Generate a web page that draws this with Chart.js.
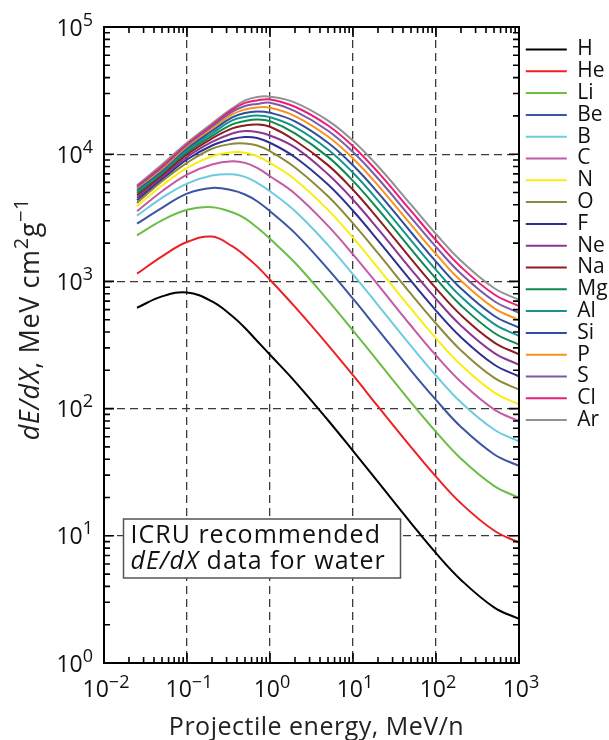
<!DOCTYPE html>
<html>
<head>
<meta charset="utf-8">
<script src="https://cdn.jsdelivr.net/npm/chart.js@4.4.1/dist/chart.umd.min.js"></script>
<style>
html,body{margin:0;padding:0;background:#ffffff;overflow:hidden;}
canvas{display:block;}
</style>
</head>
<body>
<canvas id="chart" width="609" height="740"></canvas>
<script>
// ---------------- data ----------------
const energies = [0.025, 0.05, 0.1, 0.2, 0.35, 0.5, 0.7, 1, 2, 5, 10, 20, 50, 100, 200, 500, 1000];
const ions = ['H','He','Li','Be','B','C','N','O','F','Ne','Na','Mg','Al','Si','P','S','Cl','Ar'];

const sH  = [621, 762, 819, 696, 535, 430, 340, 265, 163, 81, 46.5, 26.5, 12.6, 7.3, 4.5, 2.74, 2.22];
const sHe = [1150, 1575, 2040, 2250, 1890, 1593, 1313, 1031, 630, 316, 183, 104, 49.8, 29.2, 18.0, 11.0, 8.84];
const sLi = [2300, 3020, 3660, 3830, 3494, 3130, 2650, 2160, 1402, 709, 411, 235, 112, 65.6, 40.4, 24.7, 19.9];
const sBe = [2845, 3785, 4900, 5430, 5210, 4820, 4270, 3560, 2395, 1250, 731, 418, 199, 117, 71.8, 43.8, 35.4];
const sB  = [3290, 4540, 5875, 6790, 6960, 6640, 5950, 5115, 3572, 1930, 1137, 652, 311, 182, 112, 68.5, 55.3];
const sC  = [3560, 5115, 6920, 8300, 8810, 8550, 7810, 6710, 4896, 2734, 1632, 940, 448, 262, 162, 98.6, 79.6];
const sN  = [3900, 5670, 7810, 9640, 10370, 10250, 9640, 8550, 6335, 3651, 2207, 1276, 610, 357, 220, 134, 108];
const sO  = [4140, 6125, 8550, 11040, 12080, 12140, 11710, 10570, 7866, 4666, 2862, 1665, 797, 467, 287, 175, 141];
const sF  = [4345, 6324, 9080, 11710, 13170, 13660, 13420, 12300, 9467, 5772, 3590, 2102, 1008, 590, 364, 222, 179];
const sNe = [4537, 6554, 9506, 12480, 14550, 15230, 14960, 14040, 11300, 6957, 4386, 2588, 1245, 729, 449, 274, 221];
const sNa = [4730, 6735, 9945, 13290, 15940, 16830, 17140, 16430, 12820, 8207, 5250, 3121, 1506, 882, 543, 332, 267];
const sMg = [4905, 6922, 10310, 13910, 17140, 18260, 18760, 18190, 14578, 9527, 6170, 3700, 1791, 1050, 647, 395, 318];
const sAl = [5058, 7112, 10690, 14550, 18430, 19630, 20170, 19560, 16350, 10902, 7150, 4323, 2101, 1232, 759, 463, 373];
const sSi = [5179, 7308, 10990, 15230, 19450, 21110, 21690, 21180, 18137, 12316, 8180, 4988, 2435, 1429, 880, 537, 433];
const sP  = [5302, 7509, 11290, 15790, 20540, 22490, 23320, 23190, 19945, 13777, 9260, 5693, 2793, 1640, 1010, 617, 497];
const sS  = [5437, 7716, 11600, 16370, 21490, 23960, 24850, 25390, 21781, 15280, 10390, 6439, 3174, 1866, 1149, 701, 566];
const sCl = [5568, 8000, 11920, 16890, 22290, 25300, 26470, 26960, 23600, 16813, 11560, 7222, 3579, 2105, 1298, 792, 639];
const sAr = [5700, 8296, 12300, 17450, 22900, 26470, 28210, 28340, 25457, 18386, 12760, 8044, 4007, 2360, 1455, 888, 716];

const ionSeries = [sH, sHe, sLi, sBe, sB, sC, sN, sO, sF, sNe, sNa, sMg, sAl, sSi, sP, sS, sCl, sAr];
const ionColors = ['#000000','#ed2024','#6abd45','#3b54a4','#6ccbdf','#c45aa5','#f9ee14','#8c8a3b','#2e3192','#8e3594',
                   '#8f1c20','#0f8a4c','#16938f','#2f4ea0','#f7941e','#7a5ba8','#ec1c79','#929292'];

const xTickValues = [0.01, 0.1, 1, 10, 100, 1000];
const xTickExponents = ['\u22122', '\u22121', '0', '1', '2', '3'];
const yTickValues = [1, 10, 100, 1000, 10000, 100000];
const yTickExponents = ['0', '1', '2', '3', '4', '5'];

const xAxisTitle = 'Projectile energy, MeV/n';
const yAxisTitleParts = [['dE/dX', 'i'], [', MeV cm', 'n'], ['2', 's'], ['g', 'n'], ['\u22121', 's']];
const noteLine1 = [['ICRU recommended', 'n']];
const noteLine2 = [['dE/dX', 'i'], [' data for water', 'n']];

// ---------------- helpers ----------------
const FONT = '"Open Sans", "DejaVu Sans", sans-serif';
function isDecade(v) { const l = Math.log10(v); return Math.abs(l - Math.round(l)) < 1e-6; }
const gridColor = c => (c.tick && isDecade(c.tick.value)) ? '#3a3a3a' : 'rgba(0,0,0,0)';

function setFont(ctx, kind, size, supSize) {
  if (kind === 's') ctx.font = supSize + 'px ' + FONT;
  else ctx.font = (kind === 'i' ? 'italic ' : '') + size + 'px ' + FONT;
}
function partsWidth(ctx, parts, size, supSize) {
  let w = 0;
  for (const [t, k] of parts) { setFont(ctx, k, size, supSize); w += ctx.measureText(t).width; }
  return w;
}
function drawParts(ctx, parts, x, y, size, supSize, rise) {
  let cx = x;
  ctx.textAlign = 'left';
  ctx.textBaseline = 'alphabetic';
  for (const [t, k] of parts) {
    setFont(ctx, k, size, supSize);
    ctx.fillText(t, cx, k === 's' ? y - rise : y);
    cx += ctx.measureText(t).width;
  }
}

const decor = {
  id: 'decor',
  beforeDatasetsDraw(chart) {
    // annotation box (covers grid lines)
    const ctx = chart.ctx, a = chart.chartArea;
    const bx = a.left + 19.5, by = a.top + 492, bw = 277, bh = 59;
    ctx.save();
    ctx.fillStyle = '#ffffff';
    ctx.fillRect(bx, by, bw, bh);
    ctx.strokeStyle = '#555555';
    ctx.lineWidth = 1.5;
    ctx.strokeRect(bx, by, bw, bh);
    ctx.fillStyle = '#111111';
    ctx.letterSpacing = '1px';
    drawParts(ctx, noteLine1, bx + 7, by + 24, 25, 18, 9);
    drawParts(ctx, noteLine2, bx + 7, by + 49.5, 25, 18, 9);
    ctx.restore();
  },
  afterDatasetsDraw(chart) {
    const ctx = chart.ctx, a = chart.chartArea;
    const xs = chart.scales.x, ys = chart.scales.y;
    ctx.save();
    ctx.strokeStyle = '#000000';
    ctx.lineWidth = 1.6;
    ctx.beginPath();
    // x ticks (bottom and top, pointing inward)
    for (let e = -2; e < 3; e++) {
      for (let m = 1; m <= 9; m++) {
        const px = xs.getPixelForValue(m * Math.pow(10, e));
        const len = m === 1 ? 10 : 6;
        ctx.moveTo(px, a.bottom); ctx.lineTo(px, a.bottom - len);
        ctx.moveTo(px, a.top); ctx.lineTo(px, a.top + len);
      }
    }
    // y ticks (left and right, pointing inward)
    for (let e = 0; e < 5; e++) {
      for (let m = 1; m <= 9; m++) {
        const py = ys.getPixelForValue(m * Math.pow(10, e));
        const len = m === 1 ? 10 : 6;
        ctx.moveTo(a.left, py); ctx.lineTo(a.left + len, py);
        ctx.moveTo(a.right, py); ctx.lineTo(a.right - len, py);
      }
    }
    ctx.stroke();
    ctx.lineWidth = 2;
    ctx.strokeRect(a.left, a.top, a.right - a.left, a.bottom - a.top);
    ctx.restore();
  },
  afterDraw(chart) {
    const ctx = chart.ctx, a = chart.chartArea;
    const xs = chart.scales.x, ys = chart.scales.y;
    ctx.save();
    ctx.fillStyle = '#111111';
    // x tick labels
    xTickValues.forEach((v, i) => {
      const parts = [['10', 'n'], [xTickExponents[i], 's']];
      const w = partsWidth(ctx, parts, 23, 18);
      const px = xs.getPixelForValue(v);
      drawParts(ctx, parts, px - w / 2 + 2, a.bottom + 33.5, 23, 18, 9);
    });
    // y tick labels
    yTickValues.forEach((v, i) => {
      const parts = [['10', 'n'], [yTickExponents[i], 's']];
      const w = partsWidth(ctx, parts, 23, 18);
      const py = ys.getPixelForValue(v);
      drawParts(ctx, parts, a.left - 11 - w, py + 8.5, 23, 18, 10);
    });
    // x axis title
    ctx.fillStyle = '#222222';
    ctx.letterSpacing = '0.5px';
    ctx.font = '25px ' + FONT;
    ctx.textAlign = 'center';
    ctx.textBaseline = 'alphabetic';
    ctx.fillText(xAxisTitle, (a.left + a.right) / 2 + 5, a.bottom + 72);
    // y axis title (rotated, reading upwards, ending near the 10^4 decade)
    ctx.letterSpacing = '0.6px';
    const tw = partsWidth(ctx, yAxisTitleParts, 27, 20);
    ctx.translate(39, 198 + tw);
    ctx.rotate(-Math.PI / 2);
    drawParts(ctx, yAxisTitleParts, 0, 0, 27, 20, 11);
    ctx.restore();
  }
};

// ---------------- chart ----------------
let rightGap = 7;
const datasets = ions.map((name, k) => ({
  label: name,
  data: energies.map((e, i) => ({ x: e, y: ionSeries[k][i] })),
  borderColor: ionColors[k],
  backgroundColor: ionColors[k],
  borderWidth: 2,
  pointRadius: 0,
  fill: false,
  tension: 0.4
}));

const chart = new Chart(document.getElementById('chart').getContext('2d'), {
  type: 'line',
  data: { datasets },
  options: {
    responsive: false,
    animation: false,
    events: [],
    layout: { padding: { left: 0, top: 27, right: 0, bottom: 0 } },
    scales: {
      x: {
        type: 'logarithmic', position: 'bottom', min: 0.01, max: 1000,
        ticks: { display: false },
        grid: { color: gridColor, lineWidth: 1.3, drawTicks: false },
        border: { display: false, dash: [8, 5] },
        afterFit(s) { s.height = 77; }
      },
      y: {
        type: 'logarithmic', position: 'left', min: 1, max: 100000,
        ticks: { display: false },
        grid: { color: gridColor, lineWidth: 1.3, drawTicks: false },
        border: { display: false, dash: [8, 5] },
        afterFit(s) { s.width = 104; }
      },
      yr: {
        type: 'linear', position: 'right', display: true,
        ticks: { display: false },
        grid: { display: false, drawTicks: false },
        border: { display: false },
        afterFit(s) { s.width = rightGap; }
      }
    },
    plugins: {
      tooltip: { enabled: false },
      legend: {
        position: 'right',
        align: 'start',
        title: { display: true, text: '', font: { size: 1 }, padding: { top: 10, bottom: 0 } },
        labels: {
          usePointStyle: true,
          pointStyle: 'line',
          pointStyleWidth: 41,
          boxHeight: 21,
          padding: 0.8,
          color: '#111111',
          font: { family: FONT, size: 21 }
        }
      }
    }
  },
  plugins: [decor]
});

// fit the layout so the plot frame and legend sit at the reference extents
const lg = chart.legend;
chart.options.layout.padding.right = 609 - 525 - lg.width;
chart.update('none');
rightGap = Math.max(0, rightGap + (chart.chartArea.right - 519));
chart.update('none');
</script>
</body>
</html>
